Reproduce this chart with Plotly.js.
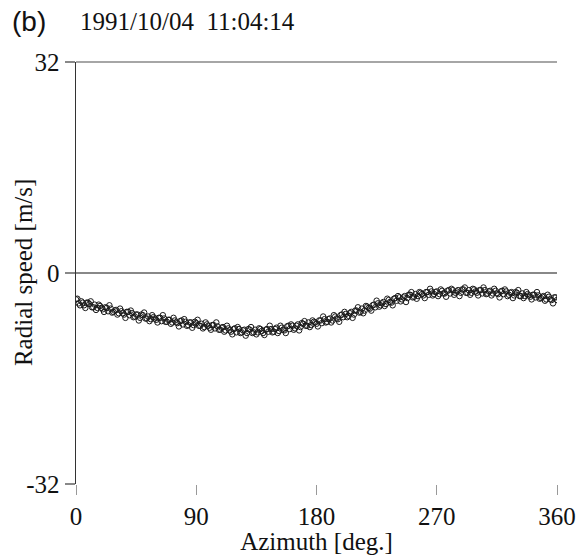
<!DOCTYPE html>
<html>
<head>
<meta charset="utf-8">
<script src="https://cdn.plot.ly/plotly-3.0.1.min.js"></script>
<style>html,body{margin:0;padding:0;background:#fff;}#chart{width:587px;height:555px;}</style>
</head>
<body>
<div id="chart"></div>
<script>
var azimuth = [0,2,4,6,8,10,12,14,16,18,20,22,24,26,28,30,32,34,36,38,40,42,44,46,48,50,52,54,56,58,60,62,64,66,68,70,72,74,76,78,80,82,84,86,88,90,92,94,96,98,100,102,104,106,108,110,112,114,116,118,120,122,124,126,128,130,132,134,136,138,140,142,144,146,148,150,152,154,156,158,160,162,164,166,168,170,172,174,176,178,180,182,184,186,188,190,192,194,196,198,200,202,204,206,208,210,212,214,216,218,220,222,224,226,228,230,232,234,236,238,240,242,244,246,248,250,252,254,256,258,260,262,264,266,268,270,272,274,276,278,280,282,284,286,288,290,292,294,296,298,300,302,304,306,308,310,312,314,316,318,320,322,324,326,328,330,332,334,336,338,340,342,344,346,348,350,352,354,356,358,360];
var radialSpeed = [-4.0,-4.6,-4.3,-4.9,-4.5,-4.7,-5.2,-4.8,-5.3,-5.0,-5.5,-5.2,-5.8,-5.4,-5.9,-5.6,-6.1,-5.8,-6.3,-5.9,-6.4,-6.1,-6.6,-6.3,-6.8,-6.4,-6.9,-6.6,-7.0,-6.7,-7.1,-6.8,-7.3,-6.9,-7.4,-7.1,-7.5,-7.2,-7.6,-7.3,-7.8,-7.4,-7.9,-7.5,-7.9,-7.6,-8.0,-7.7,-8.2,-7.8,-8.3,-7.9,-8.4,-8.1,-8.6,-8.2,-8.7,-8.4,-8.9,-8.5,-9.0,-8.5,-9.0,-8.6,-9.1,-8.6,-9.1,-8.6,-9.0,-8.5,-9.1,-8.6,-8.9,-8.5,-8.9,-8.3,-8.8,-8.3,-8.7,-8.1,-8.5,-8.0,-8.4,-7.8,-8.2,-7.7,-8.0,-7.5,-7.9,-7.4,-7.7,-7.2,-7.6,-7.0,-7.4,-6.9,-7.2,-6.6,-7.0,-6.4,-6.7,-6.2,-6.5,-5.9,-6.3,-5.7,-6.0,-5.4,-5.7,-5.1,-5.4,-4.9,-5.2,-4.6,-4.9,-4.4,-4.7,-4.1,-4.5,-3.9,-4.2,-3.7,-4.0,-3.5,-3.8,-3.3,-3.7,-3.2,-3.5,-3.0,-3.4,-2.9,-3.3,-2.8,-3.2,-2.8,-3.2,-2.7,-3.1,-2.7,-3.1,-2.6,-3.0,-2.6,-3.0,-2.5,-3.0,-2.6,-3.0,-2.5,-3.0,-2.6,-3.1,-2.6,-3.1,-2.7,-3.1,-2.7,-3.2,-2.8,-3.2,-2.8,-3.3,-2.9,-3.4,-3.0,-3.5,-3.1,-3.5,-3.2,-3.6,-3.3,-3.7,-3.4,-3.8,-3.5,-4.0,-3.6,-4.1,-3.7,-4.1];
var azimuth2 = [1,3,5,7,9,11,13,15,17,19,21,23,25,27,29,31,33,35,37,39,41,43,45,47,49,51,53,55,57,59,61,63,65,67,69,71,73,75,77,79,81,83,85,87,89,91,93,95,97,99,101,103,105,107,109,111,113,115,117,119,121,123,125,127,129,131,133,135,137,139,141,143,145,147,149,151,153,155,157,159,161,163,165,167,169,171,173,175,177,179,181,183,185,187,189,191,193,195,197,199,201,203,205,207,209,211,213,215,217,219,221,223,225,227,229,231,233,235,237,239,241,243,245,247,249,251,253,255,257,259,261,263,265,267,269,271,273,275,277,279,281,283,285,287,289,291,293,295,297,299,301,303,305,307,309,311,313,315,317,319,321,323,325,327,329,331,333,335,337,339,341,343,345,347,349,351,353,355,357,359];
var radialSpeed2 = [-3.9,-4.9,-4.5,-5.3,-4.5,-4.3,-5.2,-5.6,-4.8,-5.3,-5.9,-5.3,-4.9,-6.0,-5.7,-6.3,-5.4,-6.1,-6.8,-5.9,-5.7,-6.7,-6.3,-7.2,-6.3,-6.0,-6.9,-7.3,-6.4,-6.9,-7.5,-6.8,-6.4,-7.4,-7.1,-7.7,-6.8,-7.5,-8.1,-7.2,-7.0,-8.0,-7.5,-8.3,-7.4,-7.1,-8.0,-8.4,-7.5,-8.0,-8.6,-7.9,-7.5,-8.6,-8.3,-8.9,-8.0,-8.7,-9.3,-8.4,-8.2,-9.1,-8.7,-9.5,-8.5,-8.2,-9.0,-9.3,-8.4,-8.8,-9.4,-8.5,-8.0,-9.0,-8.5,-9.1,-8.0,-8.6,-9.1,-8.0,-7.8,-8.6,-8.0,-8.7,-7.6,-7.3,-8.0,-8.2,-7.2,-7.5,-8.1,-7.2,-6.6,-7.5,-7.0,-7.5,-6.4,-6.9,-7.4,-6.3,-5.9,-6.7,-6.1,-6.8,-5.7,-5.2,-5.9,-6.1,-5.0,-5.3,-5.7,-4.8,-4.2,-5.1,-4.6,-5.0,-3.9,-4.4,-4.9,-3.8,-3.5,-4.3,-3.7,-4.4,-3.3,-2.9,-3.6,-3.9,-2.9,-3.2,-3.8,-2.9,-2.4,-3.4,-2.9,-3.5,-2.5,-3.1,-3.6,-2.6,-2.4,-3.3,-2.8,-3.5,-2.5,-2.2,-3.0,-3.3,-2.4,-2.8,-3.4,-2.6,-2.2,-3.2,-2.8,-3.4,-2.4,-3.1,-3.7,-2.7,-2.5,-3.5,-3.0,-3.8,-2.9,-2.6,-3.5,-3.8,-2.9,-3.4,-4.0,-3.3,-2.9,-3.9,-3.6,-4.2,-3.3,-4.0,-4.6,-3.7];
var xTicks = [0,90,180,270,360];
var yTicks = [-32,0,32];
var yTickText = ['-32','0','32'];

var serif = 'Liberation Serif, Times New Roman, serif';
var mk = {symbol: 'circle-open', size: 5.5, color: '#1a1a1a', line: {width: 1, color: '#1a1a1a'}};
var traces = [
  {x: azimuth, y: radialSpeed, type: 'scatter', mode: 'markers', marker: mk, hoverinfo: 'none', showlegend: false},
  {x: azimuth2, y: radialSpeed2, type: 'scatter', mode: 'markers', marker: mk, hoverinfo: 'none', showlegend: false}
];
var layout = {
  width: 587, height: 555,
  margin: {l: 76, r: 30, t: 62, b: 71},
  paper_bgcolor: '#fff', plot_bgcolor: '#fff',
  showlegend: false,
  xaxis: {
    range: [0, 360], tickvals: xTicks, ticktext: xTicks.map(String),
    showgrid: false, zeroline: false, showline: false,
    ticks: 'outside', ticklen: 10, tickcolor: '#999', tickwidth: 1,
    tickfont: {family: serif, size: 25, color: '#111'},
    title: {text: 'Azimuth [deg.]', font: {family: serif, size: 25, color: '#111'}, standoff: 0}
  },
  yaxis: {
    range: [-32, 32], tickvals: yTicks, ticktext: yTickText,
    showgrid: false, zeroline: true, zerolinecolor: '#888', zerolinewidth: 1.5,
    showline: true, linecolor: '#333', linewidth: 1.5,
    ticks: 'outside', ticklen: 10, tickcolor: '#888', tickwidth: 1.5,
    tickfont: {family: serif, size: 25, color: '#111'}
  },
  shapes: [
    {type: 'line', xref: 'paper', yref: 'paper', x0: 0, x1: 1, y0: 1, y1: 1, line: {color: '#888', width: 1.5}}
  ],
  annotations: [
    {text: 'Radial speed [m/s]', xref: 'paper', yref: 'paper', x: -0.11, y: 0.5, xanchor: 'center', yanchor: 'middle',
     textangle: -90, showarrow: false, font: {family: serif, size: 25, color: '#111'}},
    {text: '(b)', xref: 'paper', yref: 'paper', x: -0.137, y: 1.095, xanchor: 'left', yanchor: 'middle', showarrow: false,
     font: {family: 'Liberation Sans, Arial, sans-serif', size: 28, color: '#111'}},
    {text: '1991/10/04&nbsp;&nbsp;11:04:14', xref: 'paper', yref: 'paper', x: 0.005, y: 1.095, xanchor: 'left', yanchor: 'middle', showarrow: false,
     font: {family: serif, size: 25, color: '#111'}}
  ]
};
Plotly.newPlot('chart', traces, layout, {displayModeBar: false, staticPlot: true});
</script>
</body>
</html>
